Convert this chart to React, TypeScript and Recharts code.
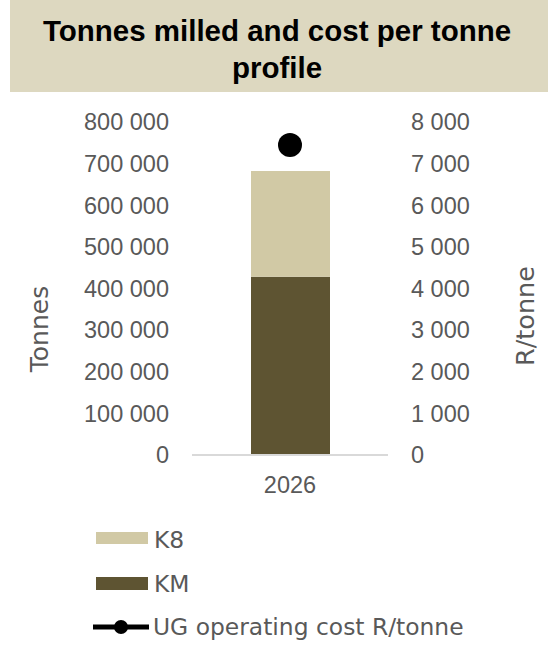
import React from 'react';
import { ComposedChart, Bar, Line, XAxis, YAxis, Legend } from 'recharts';

const categories = ['2026'];
const kmTonnes = [428000];
const k8Tonnes = [254000];
const ugCostPerTonne = [7450];
const leftTicks = [0, 100000, 200000, 300000, 400000, 500000, 600000, 700000, 800000];
const rightTicks = [0, 1000, 2000, 3000, 4000, 5000, 6000, 7000, 8000];
const legendOrder = ['K8', 'KM', 'UG operating cost R/tonne'];

const data = categories.map((c, i) => ({
  year: c,
  KM: kmTonnes[i],
  K8: k8Tonnes[i],
  cost: ugCostPerTonne[i],
}));

const COLOR_K8 = '#D1C9A5';
const COLOR_KM = '#5E5432';
const TEXT = '#595959';
const NUM_FONT = '"Liberation Sans", Arial, sans-serif';
const WORD_FONT = '"DejaVu Sans", sans-serif';

const fmt = (n: number) => String(n).replace(/\B(?=(\d{3})+(?!\d))/g, ' ');

const tickStyle = { fill: TEXT, fontSize: 23.5, fontFamily: NUM_FONT };

const renderLegend = (props: any) => {
  const payload: any[] = props.payload || [];
  const items = legendOrder
    .map((name) => payload.find((p) => p.value === name))
    .filter(Boolean);
  const rows = [
    { swY: 12, swH: 12, baseline: 27.5 },
    { swY: 57, swH: 13, baseline: 72 },
    { lineY: 107, baseline: 115 },
  ];
  return (
    <svg width={552} height={130} style={{ display: 'block' }}>
      {items.map((it: any, i: number) => {
        const r: any = rows[i];
        const isLine = it.type === 'line';
        return (
          <g key={it.value}>
            {isLine ? (
              <g>
                <line x1={93} x2={149} y1={r.lineY} y2={r.lineY} stroke={it.color} strokeWidth={5} />
                <circle cx={121} cy={r.lineY} r={7} fill={it.color} />
              </g>
            ) : (
              <rect x={96} y={r.swY} width={52} height={r.swH} fill={it.color} />
            )}
            <text
              x={isLine ? 153 : 154}
              y={r.baseline}
              fill={TEXT}
              fontSize={23.4}
              fontFamily={WORD_FONT}
            >
              {it.value}
            </text>
          </g>
        );
      })}
    </svg>
  );
};

const leftLabel = (props: any) => {
  const vb = props.viewBox || { x: 72, y: 122 };
  const cx = vb.x - 33;
  const cy = vb.y + 207;
  return (
    <text
      x={cx}
      y={cy}
      transform={`rotate(-90 ${cx} ${cy})`}
      textAnchor="middle"
      dominantBaseline="central"
      fill={TEXT}
      fontSize={25}
      fontFamily={WORD_FONT}
    >
      Tonnes
    </text>
  );
};

const rightLabel = (props: any) => {
  const vb = props.viewBox || { x: 388, y: 122 };
  const cx = vb.x + 137;
  const cy = vb.y + 194;
  return (
    <text
      x={cx}
      y={cy}
      transform={`rotate(-90 ${cx} ${cy})`}
      textAnchor="middle"
      dominantBaseline="central"
      fill={TEXT}
      fontSize={25.5}
      fontFamily={WORD_FONT}
    >
      R/tonne
    </text>
  );
};

export default function App() {
  return (
    <div style={{ position: 'absolute', left: 0, top: 0, width: 552, height: 657, background: '#fff' }}>
      <div
        style={{
          position: 'absolute',
          left: 10,
          top: 0,
          width: 538,
          height: 92,
          background: '#DDD8C0',
          boxSizing: 'border-box',
          paddingTop: 12,
          paddingRight: 4,
          textAlign: 'center',
          fontFamily: NUM_FONT,
          fontWeight: 700,
          fontSize: 29.5,
          lineHeight: '37px',
          color: '#000',
        }}
      >
        Tonnes milled and cost per tonne
        <br />
        profile
      </div>
      <div style={{ position: 'absolute', left: 0, top: 0 }}>
        <ComposedChart
          width={552}
          height={657}
          data={data}
          margin={{ top: 122, right: 44, bottom: 172, left: 72 }}
        >
          <XAxis
            dataKey="year"
            height={30}
            axisLine={{ stroke: '#D9D9D9', strokeWidth: 2 }}
            tickLine={false}
            tickSize={0}
            tickMargin={21}
            tick={tickStyle}
          />
          <YAxis
            yAxisId="left"
            orientation="left"
            width={120}
            domain={[0, 800000]}
            ticks={leftTicks}
            interval={0}
            axisLine={false}
            tickLine={false}
            tickSize={0}
            tickMargin={23}
            tick={tickStyle}
            tickFormatter={fmt}
            label={leftLabel}
          />
          <YAxis
            yAxisId="right"
            orientation="right"
            width={120}
            domain={[0, 8000]}
            ticks={rightTicks}
            interval={0}
            axisLine={false}
            tickLine={false}
            tickSize={0}
            tickMargin={23}
            tick={{ ...tickStyle, textAnchor: 'start' }}
            tickFormatter={fmt}
            label={rightLabel}
          />
          <Bar yAxisId="left" dataKey="KM" name="KM" stackId="t" fill={COLOR_KM} barSize={79} isAnimationActive={false} />
          <Bar yAxisId="left" dataKey="K8" name="K8" stackId="t" fill={COLOR_K8} barSize={79} isAnimationActive={false} />
          <Line
            yAxisId="right"
            dataKey="cost"
            name="UG operating cost R/tonne"
            type="linear"
            stroke="#000"
            strokeWidth={5}
            dot={{ r: 12, fill: '#000', stroke: 'none' }}
            legendType="line"
            isAnimationActive={false}
          />
          <Legend
            layout="vertical"
            align="center"
            verticalAlign="middle"
            content={renderLegend}
            wrapperStyle={{ left: 0, top: 520, width: 552, height: 130 }}
          />
        </ComposedChart>
      </div>
    </div>
  );
}
